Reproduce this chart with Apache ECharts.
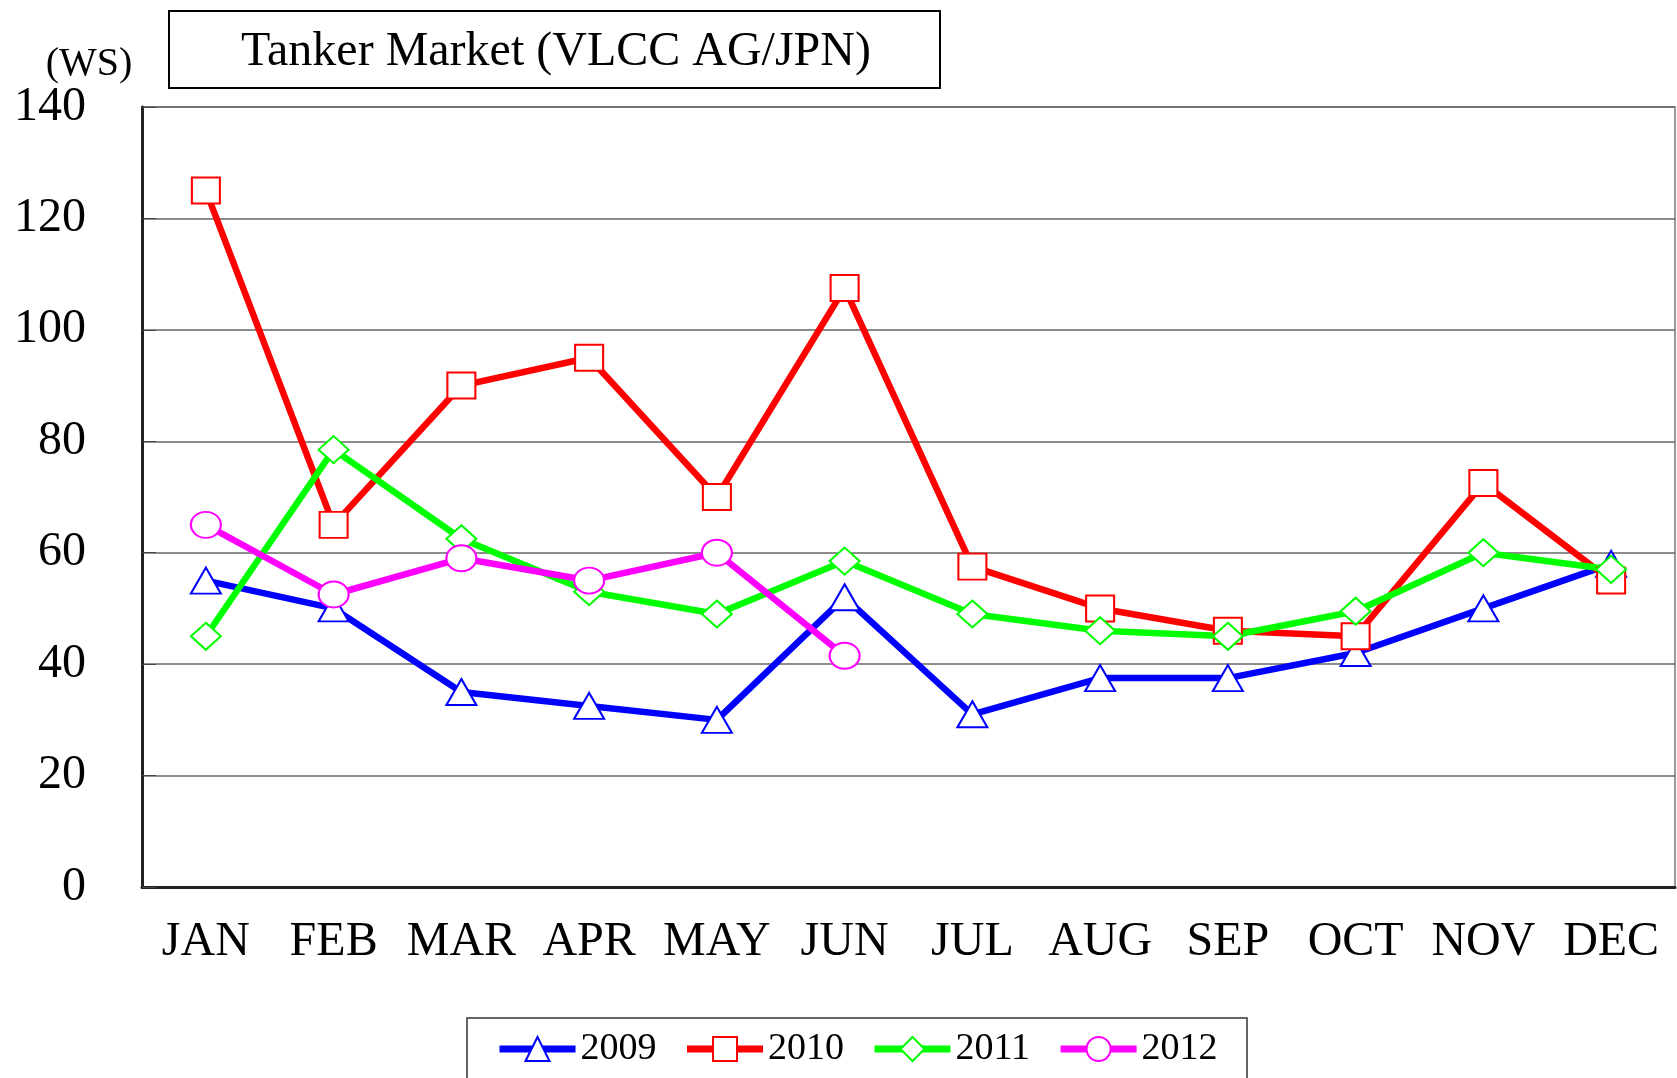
<!DOCTYPE html>
<html>
<head>
<meta charset="utf-8">
<script src="https://cdn.jsdelivr.net/npm/echarts@6/dist/echarts.min.js"></script>
<style>
  html, body { margin: 0; padding: 0; background: #fff; }
  #main { width: 1677px; height: 1078px; }
</style>
</head>
<body>
<div id="main"></div>
<script>
const months = ['JAN', 'FEB', 'MAR', 'APR', 'MAY', 'JUN', 'JUL', 'AUG', 'SEP', 'OCT', 'NOV', 'DEC'];

const ws2009 = [55, 50, 35, 32.5, 30, 52, 31, 37.5, 37.5, 42, 50, 58];
const ws2010 = [125, 65, 90, 95, 70, 107.5, 57.5, 50, 46, 45, 72.5, 55];
const ws2011 = [45, 78.5, 62.5, 53, 49, 58.5, 49, 46, 45, 49.5, 60, 57];
const ws2012 = [65, 52.5, 59, 55, 60, 41.5];

const font = 'Liberation Serif';

var myChart = echarts.init(document.getElementById('main'));

const makeSeries = (name, data, color, symbol, size) => ({
    name: name,
    type: 'line',
    data: data,
    symbol: symbol,
    symbolSize: size,
    lineStyle: {color: color, width: 6.5},
    itemStyle: {color: '#fff', borderColor: color, borderWidth: 2},
    showAllSymbol: true,
});

var option = {
    animation: false,
    textStyle: {fontFamily: font, color: '#000'},
    grid: {
        left: 142, right: 2, top: 107, bottom: 191,
        show: true, borderColor: '#999', borderWidth: 2,
    },
    graphic: [
        {
            type: 'rect',
            shape: {x: 169, y: 11, width: 771, height: 77},
            style: {fill: '#fff', stroke: '#000', lineWidth: 2},
        },
        {
            type: 'text',
            x: 556, y: 52,
            style: {
                text: 'Tanker Market (VLCC AG/JPN)',
                font: '48px "Liberation Serif"',
                fill: '#000', align: 'center', verticalAlign: 'middle',
            },
        },
        {
            type: 'text',
            x: 89, y: 64,
            style: {
                text: '(WS)',
                font: '40px "Liberation Serif"',
                fill: '#000', align: 'center', verticalAlign: 'middle',
            },
        },
        {
            type: 'rect',
            shape: {x: 467, y: 1018, width: 780, height: 80},
            style: {fill: '#fff', stroke: '#333', lineWidth: 1.5},
        },
    ],
    legend: {
        left: 491, top: 1025,
        itemWidth: 76, itemHeight: 30, itemGap: 27,
        textStyle: {fontFamily: font, fontSize: 38, color: '#000'},
        lineStyle: {width: 7},
        data: ['2009', '2010', '2011', '2012'],
    },
    xAxis: {
        type: 'category',
        data: months,
        boundaryGap: true,
        axisLine: {lineStyle: {color: '#222', width: 3}},
        axisTick: {inside: true, length: 14, lineStyle: {color: '#444'}},
        axisLabel: {fontFamily: font, fontSize: 48, color: '#000', margin: 31, interval: 0},
    },
    yAxis: {
        type: 'value',
        min: 0, max: 140, interval: 20,
        axisLine: {show: true, lineStyle: {color: '#222', width: 3}},
        axisTick: {show: true, inside: true, length: 14, lineStyle: {color: '#444'}},
        axisLabel: {fontFamily: font, fontSize: 48, color: '#000', margin: 56},
        splitLine: {lineStyle: {color: '#666', width: 1.5}},
    },
    series: [
        makeSeries('2009', ws2009, '#0000ff', 'triangle', [30, 26]),
        makeSeries('2010', ws2010, '#ff0000', 'rect', [28, 26]),
        makeSeries('2011', ws2011, '#00ff00', 'diamond', [30, 27]),
        makeSeries('2012', ws2012, '#ff00ff', 'circle', [30, 26]),
    ],
};

myChart.setOption(option);
</script>
</body>
</html>
